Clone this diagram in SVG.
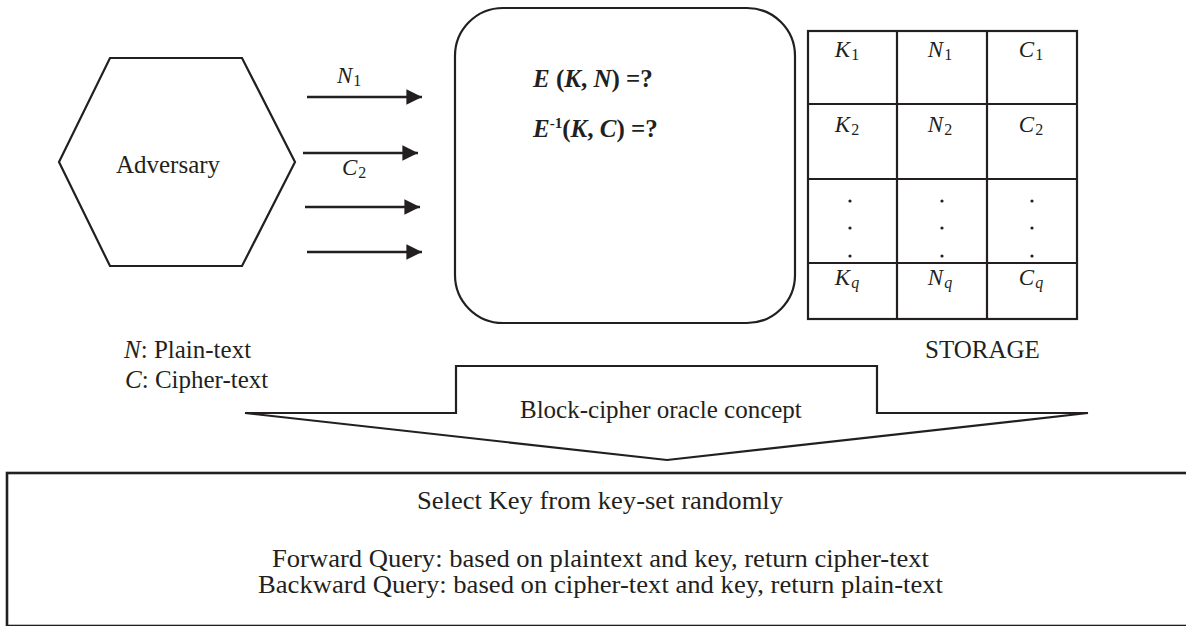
<svg xmlns="http://www.w3.org/2000/svg" width="1186" height="626" viewBox="0 0 1186 626" font-family="'Liberation Serif', 'Times New Roman', serif">
  <style>
    .shape { fill: #ffffff; stroke: #231f20; stroke-width: 2.2; stroke-linejoin: miter; }
    .grid { fill: none; stroke: #231f20; stroke-width: 2.2; }
    .t { font-family: "Liberation Serif", "Times New Roman", serif; font-size: 25px; fill: #231f20; }
    .lbl { font-family: "Liberation Serif", "Times New Roman", serif; font-size: 23px; fill: #231f20; font-style: italic; }
    .sub { font-size: 16px; font-style: normal; }
    .subi { font-size: 16px; font-style: italic; }
    .eq { font-family: "Liberation Serif", "Times New Roman", serif; font-size: 25px; fill: #231f20; font-weight: bold; font-style: italic; }
    .eqn { font-style: normal; }
    .conn { stroke: #231f20; stroke-width: 2.6; fill: none; }
    .dot { fill: #231f20; }
  </style>
  <defs>
    <marker id="arrow" viewBox="0 0 10 10" refX="10" refY="5" markerWidth="6" markerHeight="6" markerUnits="strokeWidth" orient="auto">
      <path d="M0,0 L10,5 L0,10 Z" fill="#231f20"/>
    </marker>
  </defs>

  <rect width="1186" height="626" fill="#ffffff"/>

  <g id="adversary">
    <polygon class="shape" points="110,58 242,58 295,162 242,266 110,266 59,162"/>
    <text class="t" x="168" y="173" text-anchor="middle">Adversary</text>
  </g>

  <g id="connectors">
    <line class="conn" x1="307" y1="97" x2="422" y2="97" marker-end="url(#arrow)"/>
    <line class="conn" x1="303" y1="153" x2="418" y2="153" marker-end="url(#arrow)"/>
    <line class="conn" x1="305" y1="207" x2="420" y2="207" marker-end="url(#arrow)"/>
    <line class="conn" x1="307" y1="252" x2="422" y2="252" marker-end="url(#arrow)"/>
    <text class="lbl" x="337" y="83">N<tspan class="sub" dx="1" dy="3">1</tspan></text>
    <text class="lbl" x="342" y="175">C<tspan class="sub" dx="1" dy="3">2</tspan></text>
  </g>

  <g id="oracle">
    <rect class="shape" x="455" y="8" width="340" height="315" rx="48" ry="48"/>
    <text class="eq" x="533" y="87">E <tspan class="eqn">(</tspan>K<tspan class="eqn">,</tspan> N<tspan class="eqn">) =?</tspan></text>
    <text class="eq" x="533" y="137">E<tspan class="eqn" font-size="15" dy="-9">-1</tspan><tspan class="eqn" dy="9">(</tspan>K<tspan class="eqn">,</tspan> C<tspan class="eqn">) =?</tspan></text>
  </g>

  <g id="storage">
    <rect class="grid" x="808" y="31" width="269" height="288"/>
    <line class="grid" x1="897" y1="31" x2="897" y2="319"/>
    <line class="grid" x1="987" y1="31" x2="987" y2="319"/>
    <line class="grid" x1="808" y1="104" x2="1077" y2="104"/>
    <line class="grid" x1="808" y1="179" x2="1077" y2="179"/>
    <line class="grid" x1="808" y1="263" x2="1077" y2="263"/>
    <text class="lbl" x="847" y="57" text-anchor="middle">K<tspan class="sub" dx="1" dy="3">1</tspan></text>
    <text class="lbl" x="940" y="57" text-anchor="middle">N<tspan class="sub" dx="1" dy="3">1</tspan></text>
    <text class="lbl" x="1031" y="57" text-anchor="middle">C<tspan class="sub" dx="1" dy="3">1</tspan></text>
    <text class="lbl" x="847" y="132" text-anchor="middle">K<tspan class="sub" dx="1" dy="3">2</tspan></text>
    <text class="lbl" x="940" y="132" text-anchor="middle">N<tspan class="sub" dx="1" dy="3">2</tspan></text>
    <text class="lbl" x="1031" y="132" text-anchor="middle">C<tspan class="sub" dx="1" dy="3">2</tspan></text>
    <text class="lbl" x="847" y="285" text-anchor="middle">K<tspan class="subi" dx="1" dy="3">q</tspan></text>
    <text class="lbl" x="940" y="285" text-anchor="middle">N<tspan class="subi" dx="1" dy="3">q</tspan></text>
    <text class="lbl" x="1031" y="285" text-anchor="middle">C<tspan class="subi" dx="1" dy="3">q</tspan></text>
    <circle class="dot" cx="850" cy="201" r="1.6"/>
    <circle class="dot" cx="850" cy="228" r="1.6"/>
    <circle class="dot" cx="850" cy="256" r="1.6"/>
    <circle class="dot" cx="942" cy="201" r="1.6"/>
    <circle class="dot" cx="942" cy="228" r="1.6"/>
    <circle class="dot" cx="942" cy="256" r="1.6"/>
    <circle class="dot" cx="1032" cy="201" r="1.6"/>
    <circle class="dot" cx="1032" cy="228" r="1.6"/>
    <circle class="dot" cx="1032" cy="256" r="1.6"/>
    <text class="t" x="925" y="358">STORAGE</text>
  </g>

  <g id="legend">
    <text class="t" x="124" y="358"><tspan font-style="italic">N</tspan>: Plain-text</text>
    <text class="t" x="125" y="388"><tspan font-style="italic">C</tspan>: Cipher-text</text>
  </g>

  <g id="concept-arrow">
    <polygon class="shape" points="245,413 456,413 456,366 877,366 877,413 1088,413 667,460"/>
    <text class="t" x="520" y="418">Block-cipher oracle concept</text>
  </g>

  <g id="oracle-rules">
    <rect x="7" y="473" width="1200" height="153" fill="#ffffff" stroke="#231f20" stroke-width="2.6"/>
    <text class="t" x="417" y="509" textLength="366" lengthAdjust="spacingAndGlyphs">Select Key from key-set randomly</text>
    <text class="t" x="272" y="567" font-size="21" textLength="657" lengthAdjust="spacingAndGlyphs">Forward Query: based on plaintext and key, return cipher-text</text>
    <text class="t" x="258" y="593" font-size="21" textLength="685" lengthAdjust="spacingAndGlyphs">Backward Query: based on cipher-text and key, return plain-text</text>
  </g>
</svg>
